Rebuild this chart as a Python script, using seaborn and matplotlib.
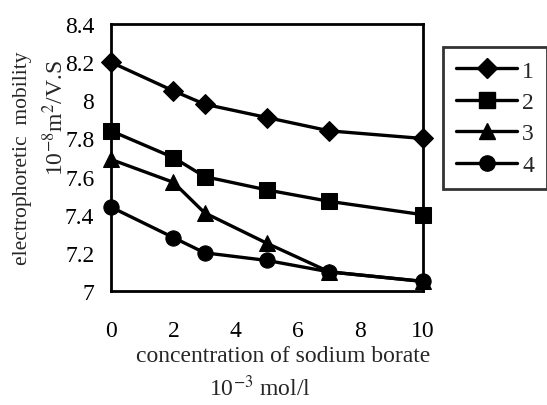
import matplotlib
matplotlib.use("Agg")
import matplotlib.pyplot as plt
import seaborn as sns
import pandas as pd
from matplotlib.lines import Line2D

x_vals = [0, 2, 3, 5, 7, 10]
series_names = ["1", "2", "3", "4"]
s1 = [8.20, 8.05, 7.98, 7.91, 7.84, 7.80]
s2 = [7.84, 7.70, 7.60, 7.53, 7.47, 7.40]
s3 = [7.69, 7.57, 7.41, 7.25, 7.10, 7.05]
s4 = [7.44, 7.28, 7.20, 7.16, 7.10, 7.05]
xticks = [0, 2, 4, 6, 8, 10]
yticks = [7, 7.2, 7.4, 7.6, 7.8, 8, 8.2, 8.4]
ytick_labels = ["7", "7.2", "7.4", "7.6", "7.8", "8", "8.2", "8.4"]

sns.set_style("white")
plt.rcParams['font.family'] = ['Liberation Serif', 'DejaVu Serif']
plt.rcParams['mathtext.fontset'] = 'stix'

rows = []
for name, vals in zip(series_names, [s1, s2, s3, s4]):
    for xv, yv in zip(x_vals, vals):
        rows.append({"x": xv, "y": yv, "series": name})
df = pd.DataFrame(rows)

fig = plt.figure(figsize=(5.47, 4.06), dpi=100)
ax = fig.add_axes([0.203, 0.281, 0.570, 0.657])

markers = {"1": "D", "2": "s", "3": "^", "4": "o"}
sns.lineplot(data=df, x="x", y="y", style="series", markers=markers, dashes=False,
             color="black", linewidth=2.4, markersize=11, ax=ax, legend=False)
for ln in ax.lines:
    ln.set_clip_on(False)
    ln.set_markeredgecolor("black")
    ln.set_markerfacecolor("black")
ax.lines[0].set_markersize(10)

ax.set_xlim(0, 10)
ax.set_ylim(7, 8.4)
ax.set_xticks(xticks)
ax.set_yticks(yticks)
ax.set_yticklabels(ytick_labels)
ax.tick_params(axis='both', direction='in', length=5, width=1.5, labelsize=17, colors='black')
ax.tick_params(axis='x', pad=21)
ax.tick_params(axis='y', pad=12)
for sp in ax.spines.values():
    sp.set_visible(True)
    sp.set_color("black")
    sp.set_linewidth(2)
ax.set_xlabel("")
ax.set_ylabel("")

handles = [Line2D([0], [0], color="black", lw=2.4, marker=markers[n], markersize=11 if n != "1" else 10,
                  markerfacecolor="black", markeredgecolor="black") for n in series_names]
leg = fig.legend(handles, series_names, loc="upper left", bbox_to_anchor=(443 / 547, 1 - 48 / 406),
                 borderaxespad=0, frameon=True, fancybox=False, fontsize=17, handlelength=2.6,
                 labelspacing=0.42, borderpad=0.55, handletextpad=0.2)
leg.get_frame().set_edgecolor("black")
leg.get_frame().set_linewidth(2)

fig.text(23 / 547, 1 - 158 / 406, "electrophoretic  mobility", rotation=90,
         ha="center", va="center", fontsize=15.5)
fig.text(55 / 547, 1 - 118 / 406, r"10$^{-8}$m$^{2}$/V.S", rotation=90,
         ha="center", va="center", fontsize=17)
fig.text(283 / 547, 1 - 357 / 406, "concentration of sodium borate",
         ha="center", va="center", fontsize=17)
fig.text(260 / 547, 1 - 388 / 406, r"10$^{-3}$ mol/l",
         ha="center", va="center", fontsize=17)

fig.savefig("out.png", dpi=100)
